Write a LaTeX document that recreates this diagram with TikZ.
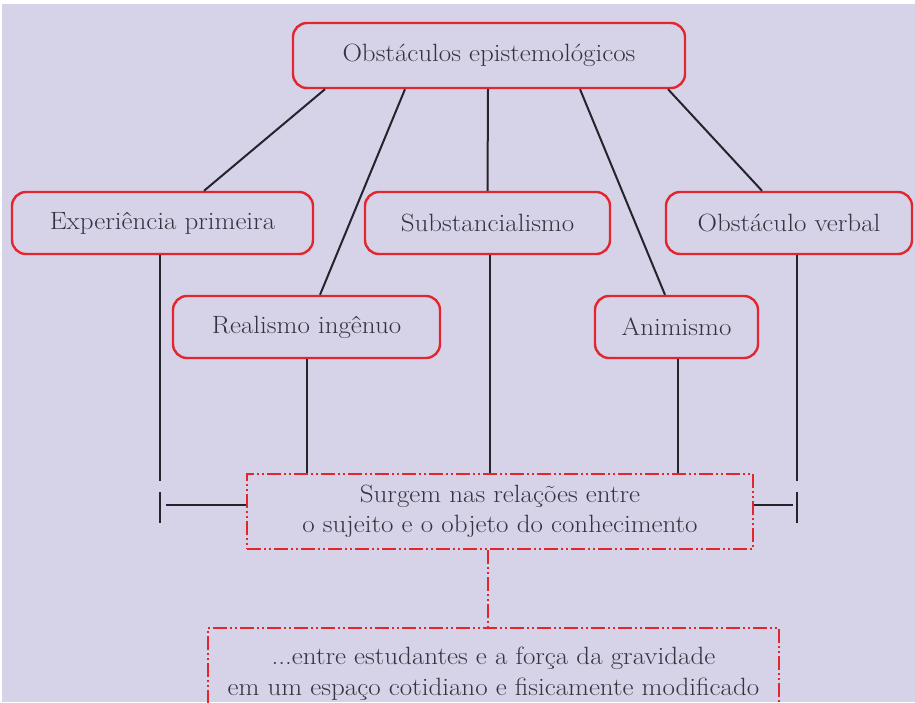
\documentclass[tikz,border=0pt]{standalone}
\usepackage{fontspec}
\setmainfont{Latin Modern Roman}[FakeStretch=1.08]
\definecolor{bgc}{HTML}{D6D3E9}
\definecolor{redc}{HTML}{E3262E}
\definecolor{linec}{HTML}{24242C}
\definecolor{textc}{HTML}{34343F}
\begin{document}
\begin{tikzpicture}[x=1pt,y=-1pt,
  txt/.style={text=textc, font=\fontsize{25}{29.5}\selectfont},
  rbox/.style={draw=redc, line width=2.4pt, rounded corners=14pt, inner sep=0pt, txt},
  dbox/.style={draw=redc, line width=2.4pt, dash pattern=on 14pt off 3pt on 2pt off 3pt on 2pt off 3pt, inner sep=0pt, align=center, txt},
  link/.style={draw=linec, line width=2pt},
  dlink/.style={draw=redc, line width=2.4pt, dash pattern=on 14pt off 3pt on 2pt off 3pt on 2pt off 3pt},
]
\fill[white] (0,0) rectangle (915,702);
\useasboundingbox (0,0) rectangle (915,702);
\fill[bgc] (2,4) rectangle (915,702);

\node[rbox, minimum width=392pt, minimum height=65pt] (top) at (489,55.5) {Obstáculos epistemológicos};
\node[rbox, minimum width=301pt, minimum height=62pt] (exp) at (162.5,223) {Experiência primeira};
\node[rbox, minimum width=245pt, minimum height=62pt] (sub) at (487.5,223) {Substancialismo};
\node[rbox, minimum width=246pt, minimum height=62pt] (obs) at (789,223) {Obstáculo verbal};
\node[rbox, minimum width=267pt, minimum height=62pt] (rea) at (306.5,327) {Realismo ingênuo};
\node[rbox, minimum width=163pt, minimum height=62pt] (ani) at (676.5,327) {Animismo};
\node[dbox, minimum width=506pt, minimum height=75pt] (box1) at (500,511.5) {Surgem nas relações entre\\o sujeito e o objeto do conhecimento};
\node[dbox, minimum width=571pt, minimum height=92pt] (box2) at (493.5,674) {...entre estudantes e a força da gravidade\\[1.5pt]em um espaço cotidiano e fisicamente modificado};

\coordinate (lgap) at (160,481);
\coordinate (ltop) at (160,492);
\coordinate (lbot) at (160,523);
\coordinate (lh) at (166,505);
\coordinate (rgap) at (797,481);
\coordinate (rtop) at (797,492);
\coordinate (rbot) at (797,523);
\coordinate (rh) at (793,505);

\draw[link] ([xshift=-164pt]top.south) -- ([xshift=41.5pt]exp.north);
\draw[link] ([xshift=-84pt]top.south) -- ([xshift=13.5pt]rea.north);
\draw[link] ([xshift=-1pt]top.south) -- (sub.north);
\draw[link] ([xshift=91pt]top.south) -- ([xshift=-11.5pt]ani.north);
\draw[link] ([xshift=179pt]top.south) -- ([xshift=-27pt]obs.north);

\draw[link] (exp.south -| lgap) -- (lgap);
\draw[link] (ltop) -- (lbot);
\draw[link] (lh) -- (lh -| box1.west);
\draw[link] (obs.south -| rgap) -- (rgap);
\draw[link] (rtop) -- (rbot);
\draw[link] (rh) -- (rh -| box1.east);
\draw[link] (rea.south) -- (rea.south |- box1.north);
\draw[link] ([xshift=2.5pt]sub.south) -- ([xshift=2.5pt]sub.south |- box1.north);
\draw[link] ([xshift=1.5pt]ani.south) -- ([xshift=1.5pt]ani.south |- box1.north);

\draw[dlink] ([xshift=-12pt]box1.south) -- ([xshift=-5.5pt]box2.north);
\end{tikzpicture}
\end{document}
